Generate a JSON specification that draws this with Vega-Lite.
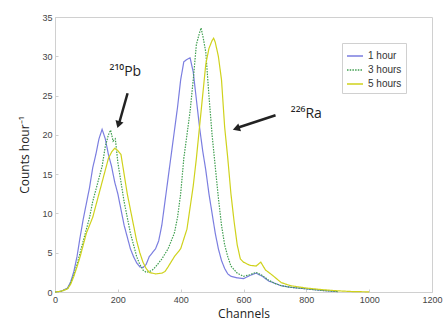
{
  "$schema": "https://vega.github.io/schema/vega-lite/v6.json",
  "width": 377,
  "height": 275,
  "autosize": {"type": "none"},
  "padding": {"left": 55, "top": 17, "right": 16, "bottom": 41},
  "background": "white",
  "config": {
    "view": {"stroke": "#d0d0d0", "strokeWidth": 1},
    "axis": {"labelFont": "Liberation Sans", "labelFontSize": 9, "labelColor": "#444", "titleFont": "Open Sans", "titleFontWeight": "normal", "titleColor": "#222", "titleFontSize": 12, "domainColor": "#d0d0d0", "tickColor": "#d0d0d0", "grid": false, "labelOverlap": false, "labelFlush": false}
  },
  "datasets": {
    "spec": [
      {"s": "1 hour", "ch": 0, "v": 0}, {"s": "1 hour", "ch": 20, "v": 0.1}, {"s": "1 hour", "ch": 40, "v": 0.5}, {"s": "1 hour", "ch": 50, "v": 1.3}, {"s": "1 hour", "ch": 60, "v": 2.6}, {"s": "1 hour", "ch": 70, "v": 4.5}, {"s": "1 hour", "ch": 80, "v": 7}, {"s": "1 hour", "ch": 90, "v": 9.3}, {"s": "1 hour", "ch": 100, "v": 11.3}, {"s": "1 hour", "ch": 110, "v": 13.3}, {"s": "1 hour", "ch": 120, "v": 15.8}, {"s": "1 hour", "ch": 130, "v": 17.5}, {"s": "1 hour", "ch": 140, "v": 19.5}, {"s": "1 hour", "ch": 150, "v": 20.7}, {"s": "1 hour", "ch": 160, "v": 19.5}, {"s": "1 hour", "ch": 170, "v": 17.5}, {"s": "1 hour", "ch": 180, "v": 16}, {"s": "1 hour", "ch": 190, "v": 14}, {"s": "1 hour", "ch": 200, "v": 12.5}, {"s": "1 hour", "ch": 210, "v": 10.5}, {"s": "1 hour", "ch": 220, "v": 8.5}, {"s": "1 hour", "ch": 230, "v": 7}, {"s": "1 hour", "ch": 240, "v": 5.5}, {"s": "1 hour", "ch": 250, "v": 4.5}, {"s": "1 hour", "ch": 260, "v": 3.7}, {"s": "1 hour", "ch": 270, "v": 3.2}, {"s": "1 hour", "ch": 280, "v": 3.1}, {"s": "1 hour", "ch": 290, "v": 3.5}, {"s": "1 hour", "ch": 300, "v": 4.5}, {"s": "1 hour", "ch": 310, "v": 5}, {"s": "1 hour", "ch": 320, "v": 5.5}, {"s": "1 hour", "ch": 330, "v": 6.5}, {"s": "1 hour", "ch": 340, "v": 8.5}, {"s": "1 hour", "ch": 350, "v": 11.5}, {"s": "1 hour", "ch": 360, "v": 14.5}, {"s": "1 hour", "ch": 370, "v": 17.5}, {"s": "1 hour", "ch": 380, "v": 20.5}, {"s": "1 hour", "ch": 390, "v": 23.5}, {"s": "1 hour", "ch": 400, "v": 27}, {"s": "1 hour", "ch": 410, "v": 29.3}, {"s": "1 hour", "ch": 420, "v": 29.6}, {"s": "1 hour", "ch": 430, "v": 29.8}, {"s": "1 hour", "ch": 440, "v": 28}, {"s": "1 hour", "ch": 450, "v": 24.5}, {"s": "1 hour", "ch": 460, "v": 21}, {"s": "1 hour", "ch": 470, "v": 18}, {"s": "1 hour", "ch": 480, "v": 15.5}, {"s": "1 hour", "ch": 490, "v": 12.5}, {"s": "1 hour", "ch": 500, "v": 10}, {"s": "1 hour", "ch": 510, "v": 7.5}, {"s": "1 hour", "ch": 520, "v": 5.5}, {"s": "1 hour", "ch": 530, "v": 4}, {"s": "1 hour", "ch": 540, "v": 3}, {"s": "1 hour", "ch": 550, "v": 2.3}, {"s": "1 hour", "ch": 560, "v": 2}, {"s": "1 hour", "ch": 580, "v": 1.8}, {"s": "1 hour", "ch": 600, "v": 1.7}, {"s": "1 hour", "ch": 620, "v": 2.1}, {"s": "1 hour", "ch": 640, "v": 2.4}, {"s": "1 hour", "ch": 660, "v": 2}, {"s": "1 hour", "ch": 680, "v": 1.4}, {"s": "1 hour", "ch": 700, "v": 1.1}, {"s": "1 hour", "ch": 720, "v": 0.8}, {"s": "1 hour", "ch": 750, "v": 0.6}, {"s": "1 hour", "ch": 800, "v": 0.4}, {"s": "1 hour", "ch": 850, "v": 0.2}, {"s": "1 hour", "ch": 900, "v": 0.05},
      {"s": "3 hours", "ch": 0, "v": 0}, {"s": "3 hours", "ch": 20, "v": 0.1}, {"s": "3 hours", "ch": 40, "v": 0.4}, {"s": "3 hours", "ch": 50, "v": 1.2}, {"s": "3 hours", "ch": 60, "v": 2.2}, {"s": "3 hours", "ch": 70, "v": 3.5}, {"s": "3 hours", "ch": 80, "v": 5}, {"s": "3 hours", "ch": 90, "v": 6.5}, {"s": "3 hours", "ch": 100, "v": 8}, {"s": "3 hours", "ch": 110, "v": 9.5}, {"s": "3 hours", "ch": 120, "v": 11.5}, {"s": "3 hours", "ch": 130, "v": 13}, {"s": "3 hours", "ch": 140, "v": 14.5}, {"s": "3 hours", "ch": 150, "v": 16}, {"s": "3 hours", "ch": 160, "v": 18.5}, {"s": "3 hours", "ch": 170, "v": 20}, {"s": "3 hours", "ch": 177, "v": 20.6}, {"s": "3 hours", "ch": 185, "v": 19.2}, {"s": "3 hours", "ch": 192, "v": 19.5}, {"s": "3 hours", "ch": 200, "v": 16.5}, {"s": "3 hours", "ch": 210, "v": 14}, {"s": "3 hours", "ch": 220, "v": 11.5}, {"s": "3 hours", "ch": 230, "v": 9.5}, {"s": "3 hours", "ch": 240, "v": 7.5}, {"s": "3 hours", "ch": 250, "v": 6}, {"s": "3 hours", "ch": 260, "v": 4.5}, {"s": "3 hours", "ch": 270, "v": 3.5}, {"s": "3 hours", "ch": 280, "v": 2.8}, {"s": "3 hours", "ch": 290, "v": 2.5}, {"s": "3 hours", "ch": 300, "v": 2.6}, {"s": "3 hours", "ch": 310, "v": 2.8}, {"s": "3 hours", "ch": 320, "v": 3.2}, {"s": "3 hours", "ch": 340, "v": 4.2}, {"s": "3 hours", "ch": 360, "v": 5.5}, {"s": "3 hours", "ch": 380, "v": 7.5}, {"s": "3 hours", "ch": 390, "v": 9.5}, {"s": "3 hours", "ch": 400, "v": 12.5}, {"s": "3 hours", "ch": 410, "v": 17}, {"s": "3 hours", "ch": 420, "v": 20}, {"s": "3 hours", "ch": 430, "v": 23}, {"s": "3 hours", "ch": 440, "v": 27}, {"s": "3 hours", "ch": 450, "v": 31.5}, {"s": "3 hours", "ch": 460, "v": 33}, {"s": "3 hours", "ch": 465, "v": 33.6}, {"s": "3 hours", "ch": 472, "v": 32.3}, {"s": "3 hours", "ch": 480, "v": 30.5}, {"s": "3 hours", "ch": 490, "v": 25}, {"s": "3 hours", "ch": 500, "v": 20}, {"s": "3 hours", "ch": 510, "v": 16}, {"s": "3 hours", "ch": 520, "v": 12}, {"s": "3 hours", "ch": 530, "v": 8.5}, {"s": "3 hours", "ch": 540, "v": 6}, {"s": "3 hours", "ch": 550, "v": 4.5}, {"s": "3 hours", "ch": 560, "v": 3.3}, {"s": "3 hours", "ch": 580, "v": 2.4}, {"s": "3 hours", "ch": 600, "v": 2}, {"s": "3 hours", "ch": 620, "v": 2.2}, {"s": "3 hours", "ch": 640, "v": 2.5}, {"s": "3 hours", "ch": 660, "v": 2.1}, {"s": "3 hours", "ch": 680, "v": 1.5}, {"s": "3 hours", "ch": 700, "v": 1.1}, {"s": "3 hours", "ch": 720, "v": 0.8}, {"s": "3 hours", "ch": 750, "v": 0.6}, {"s": "3 hours", "ch": 800, "v": 0.4}, {"s": "3 hours", "ch": 850, "v": 0.2}, {"s": "3 hours", "ch": 900, "v": 0.05},
      {"s": "5 hours", "ch": 0, "v": 0}, {"s": "5 hours", "ch": 20, "v": 0.1}, {"s": "5 hours", "ch": 40, "v": 0.4}, {"s": "5 hours", "ch": 50, "v": 1}, {"s": "5 hours", "ch": 60, "v": 2}, {"s": "5 hours", "ch": 70, "v": 3.2}, {"s": "5 hours", "ch": 80, "v": 4.5}, {"s": "5 hours", "ch": 90, "v": 6}, {"s": "5 hours", "ch": 100, "v": 7.5}, {"s": "5 hours", "ch": 110, "v": 8.5}, {"s": "5 hours", "ch": 120, "v": 9.5}, {"s": "5 hours", "ch": 130, "v": 11}, {"s": "5 hours", "ch": 140, "v": 12.5}, {"s": "5 hours", "ch": 150, "v": 14}, {"s": "5 hours", "ch": 160, "v": 15.5}, {"s": "5 hours", "ch": 170, "v": 17}, {"s": "5 hours", "ch": 180, "v": 17.8}, {"s": "5 hours", "ch": 190, "v": 18.3}, {"s": "5 hours", "ch": 200, "v": 18}, {"s": "5 hours", "ch": 210, "v": 17.5}, {"s": "5 hours", "ch": 220, "v": 15}, {"s": "5 hours", "ch": 230, "v": 12.5}, {"s": "5 hours", "ch": 240, "v": 10.5}, {"s": "5 hours", "ch": 250, "v": 8.5}, {"s": "5 hours", "ch": 260, "v": 6.5}, {"s": "5 hours", "ch": 270, "v": 5}, {"s": "5 hours", "ch": 280, "v": 3.8}, {"s": "5 hours", "ch": 290, "v": 3}, {"s": "5 hours", "ch": 300, "v": 2.5}, {"s": "5 hours", "ch": 320, "v": 2.3}, {"s": "5 hours", "ch": 340, "v": 2.4}, {"s": "5 hours", "ch": 350, "v": 2.6}, {"s": "5 hours", "ch": 360, "v": 3.2}, {"s": "5 hours", "ch": 380, "v": 4.5}, {"s": "5 hours", "ch": 400, "v": 5.5}, {"s": "5 hours", "ch": 420, "v": 8}, {"s": "5 hours", "ch": 440, "v": 13.5}, {"s": "5 hours", "ch": 450, "v": 17}, {"s": "5 hours", "ch": 460, "v": 21}, {"s": "5 hours", "ch": 470, "v": 25}, {"s": "5 hours", "ch": 480, "v": 29}, {"s": "5 hours", "ch": 490, "v": 31}, {"s": "5 hours", "ch": 500, "v": 32}, {"s": "5 hours", "ch": 505, "v": 32.3}, {"s": "5 hours", "ch": 510, "v": 31.8}, {"s": "5 hours", "ch": 520, "v": 30}, {"s": "5 hours", "ch": 530, "v": 27}, {"s": "5 hours", "ch": 540, "v": 21}, {"s": "5 hours", "ch": 550, "v": 17}, {"s": "5 hours", "ch": 560, "v": 12.5}, {"s": "5 hours", "ch": 570, "v": 9}, {"s": "5 hours", "ch": 580, "v": 6}, {"s": "5 hours", "ch": 590, "v": 4.2}, {"s": "5 hours", "ch": 600, "v": 3.8}, {"s": "5 hours", "ch": 620, "v": 3.4}, {"s": "5 hours", "ch": 640, "v": 3.3}, {"s": "5 hours", "ch": 655, "v": 3.8}, {"s": "5 hours", "ch": 670, "v": 2.8}, {"s": "5 hours", "ch": 690, "v": 2.2}, {"s": "5 hours", "ch": 720, "v": 1.2}, {"s": "5 hours", "ch": 750, "v": 0.8}, {"s": "5 hours", "ch": 800, "v": 0.5}, {"s": "5 hours", "ch": 850, "v": 0.3}, {"s": "5 hours", "ch": 900, "v": 0.15}, {"s": "5 hours", "ch": 950, "v": 0.05}, {"s": "5 hours", "ch": 1000, "v": 0.02}
    ],
    "arrows": [
      {"ch": 231, "v": 25.3, "ch2": 205, "v2": 21.6},
      {"ch": 702, "v": 22.5, "ch2": 581, "v2": 20.9}
    ],
    "heads": [
      {"ch": 202, "v": 21.3, "ang": 197},
      {"ch": 577, "v": 20.8, "ang": 251}
    ],
    "labels": [
      {"ch": 224, "v": 28.0, "t": "²¹⁰Pb"},
      {"ch": 800, "v": 22.6, "t": "²²⁶Ra"}
    ]
  },
  "encoding": {
    "x": {"field": "ch", "type": "quantitative", "title": "Channels", "scale": {"domain": [0, 1200], "nice": false}, "axis": {"values": [0, 200, 400, 600, 800, 1000, 1200], "format": "d", "tickSize": -3, "labelPadding": 6, "titlePadding": 4, "labelOverlap": false}},
    "y": {"field": "v", "type": "quantitative", "title": "Counts hour⁻¹", "scale": {"domain": [0, 35], "nice": false}, "axis": {"values": [0, 5, 10, 15, 20, 25, 30, 35], "format": "d", "tickSize": -3, "labelPadding": 6, "titlePadding": 10, "labelOverlap": false, "labelBound": false}}
  },
  "layer": [
    {
      "data": {"name": "spec"},
      "mark": {"type": "line", "strokeWidth": 1.2, "interpolate": "linear"},
      "encoding": {
        "color": {"field": "s", "type": "nominal", "title": null, "scale": {"domain": ["1 hour", "3 hours", "5 hours"], "range": ["#7b7ee0", "#3f9e4f", "#cfd21c"]},
          "legend": {"orient": "none", "legendX": 287, "legendY": 26, "symbolType": "stroke", "symbolSize": 256, "symbolStrokeWidth": 1.3, "labelFont": "Liberation Sans", "labelFontSize": 10, "labelColor": "#333", "rowPadding": 0, "padding": 4, "strokeColor": "#d0d0d0", "fillColor": "white"}},
        "strokeDash": {"field": "s", "type": "nominal", "scale": {"domain": ["1 hour", "3 hours", "5 hours"], "range": [[1, 0], [1.5, 1.2], [1, 0]]}, "legend": null}
      }
    },
    {
      "data": {"name": "arrows"},
      "mark": {"type": "rule", "color": "#222", "strokeWidth": 2.5},
      "encoding": {
        "x2": {"field": "ch2"},
        "y2": {"field": "v2"}
      }
    },
    {
      "data": {"name": "heads"},
      "mark": {"type": "point", "shape": "triangle-up", "filled": true, "color": "#222", "size": 70, "opacity": 1},
      "encoding": {
        "angle": {"field": "ang", "type": "quantitative", "scale": null}
      }
    },
    {
      "data": {"name": "labels"},
      "mark": {"type": "text", "font": "Open Sans", "fontSize": 14, "color": "#222"},
      "encoding": {
        "text": {"field": "t"}
      }
    }
  ]
}
